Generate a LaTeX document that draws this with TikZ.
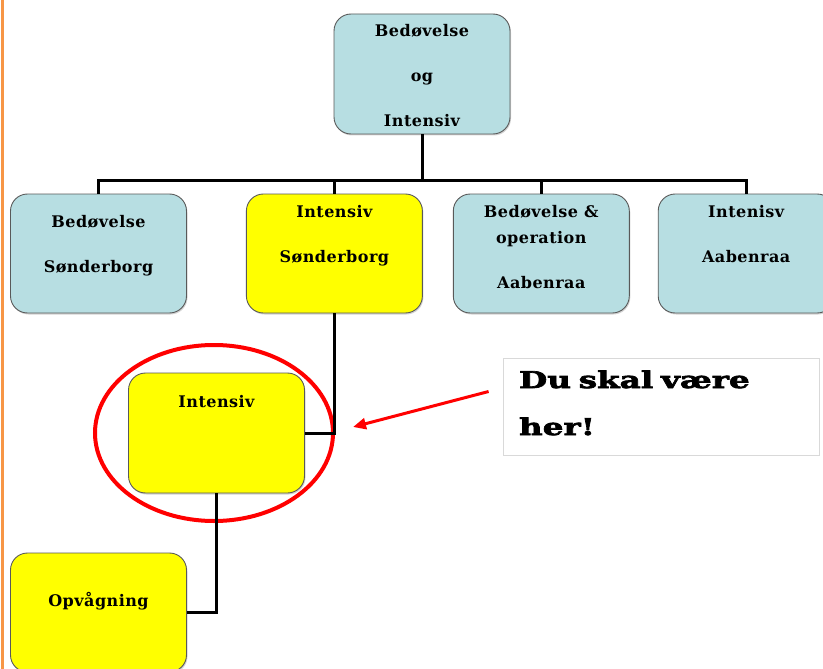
\documentclass[tikz,border=0pt]{standalone}
\usepackage{fontspec}
\usepackage{tikz}
\usetikzlibrary{positioning}
\usetikzlibrary{shapes.geometric}
\usetikzlibrary{arrows.meta}
\usetikzlibrary{calc}
\usetikzlibrary{shadows}
\usepackage{xcolor}
\newfontfamily\boxfont{DejaVu Serif}[LetterSpace=3]
\newfontfamily\notefont{DejaVu Serif}[FakeStretch=1.42,FakeBold=3]
\definecolor{unitblue}{RGB}{183,222,226}
\definecolor{unityellow}{RGB}{255,255,0}
\definecolor{edgeorange}{RGB}{247,150,70}
\newcommand{\unitlines}[1]{\begin{tabular}[t]{@{}c@{}}#1\end{tabular}}

\begin{document}
\begin{tikzpicture}[
  x=1pt, y=-1pt,
  font=\boxfont\bfseries\fontsize{16}{45}\selectfont,
  unit/.style 2 args={draw=black!65, line width=0.9pt, rounded corners=17pt, minimum width=176pt, inner ysep=0pt, text height=#1, text depth=#2,
    drop shadow={shadow xshift=1pt, shadow yshift=-1.5pt, opacity=0.35}},
  cold/.style={fill=unitblue},
  here/.style={fill=unityellow},
  link/.style={line width=3pt},
  ring/.style={ellipse, draw=red, line width=4pt, minimum width=238pt, minimum height=176pt, inner sep=0pt},
  pointer/.style={draw=red, line width=3pt, -{Triangle[length=13pt,width=11pt]}},
  note/.style={draw=black!15, line width=0.8pt, text width=284pt, align=left, inner xsep=16pt, inner ysep=0pt, text height=30pt, text depth=67pt, font=\notefont\bfseries\fontsize{23}{47}\selectfont}
]
\useasboundingbox (0,0) rectangle (823,669);
\draw[draw=edgeorange, line width=3pt] (2.5,0) -- (2.5,669);

\node[unit={23pt}{97pt}, cold] (top) at (422,74) {\unitlines{Bedøvelse\\og\\Intensiv}};

\node[unit={33pt}{86pt}, cold] (bedsond) at (98.5,253.5) {\unitlines{Bedøvelse\\Sønderborg}};
\node[unit={23pt}{96pt}, here, right=59pt of bedsond] (intsond) {\unitlines{Intensiv\\Sønderborg}};
\node[unit={23pt}{96pt}, cold, right=30pt of intsond, font=\boxfont\bfseries\fontsize{16}{26}\selectfont] (bedaab) {\unitlines{Bedøvelse \&\\operation\\[19pt]Aabenraa}};
\node[unit={23pt}{96pt}, cold, right=28pt of bedaab] (intaab) {\unitlines{Intenisv\\Aabenraa}};

\node[unit={34pt}{86pt}, here] (intensiv) at (216.5,433) {\unitlines{Intensiv}};
\node[unit={53pt}{66pt}, here] (opv) at (98.5,612.5) {\unitlines{Opvågning}};

\node[note] (note) at (661,406.5) {\begin{tabular}[t]{@{}l@{}}Du skal være\\her!\end{tabular}};

\node[ring] (mark) at (214,433) {};

\foreach \unit in {bedsond,intsond,bedaab,intaab}
  \draw[link] (top.south) -- ++(0,46) -| (\unit.north);
\draw[link] (intsond.south) |- (intensiv.east);
\draw[link] (intensiv.south) |- (opv.east);

\draw[pointer] ($(note.west)+(-14,-15)$) -- ($(mark.east)+(18,-6)$);

\end{tikzpicture}
\end{document}
